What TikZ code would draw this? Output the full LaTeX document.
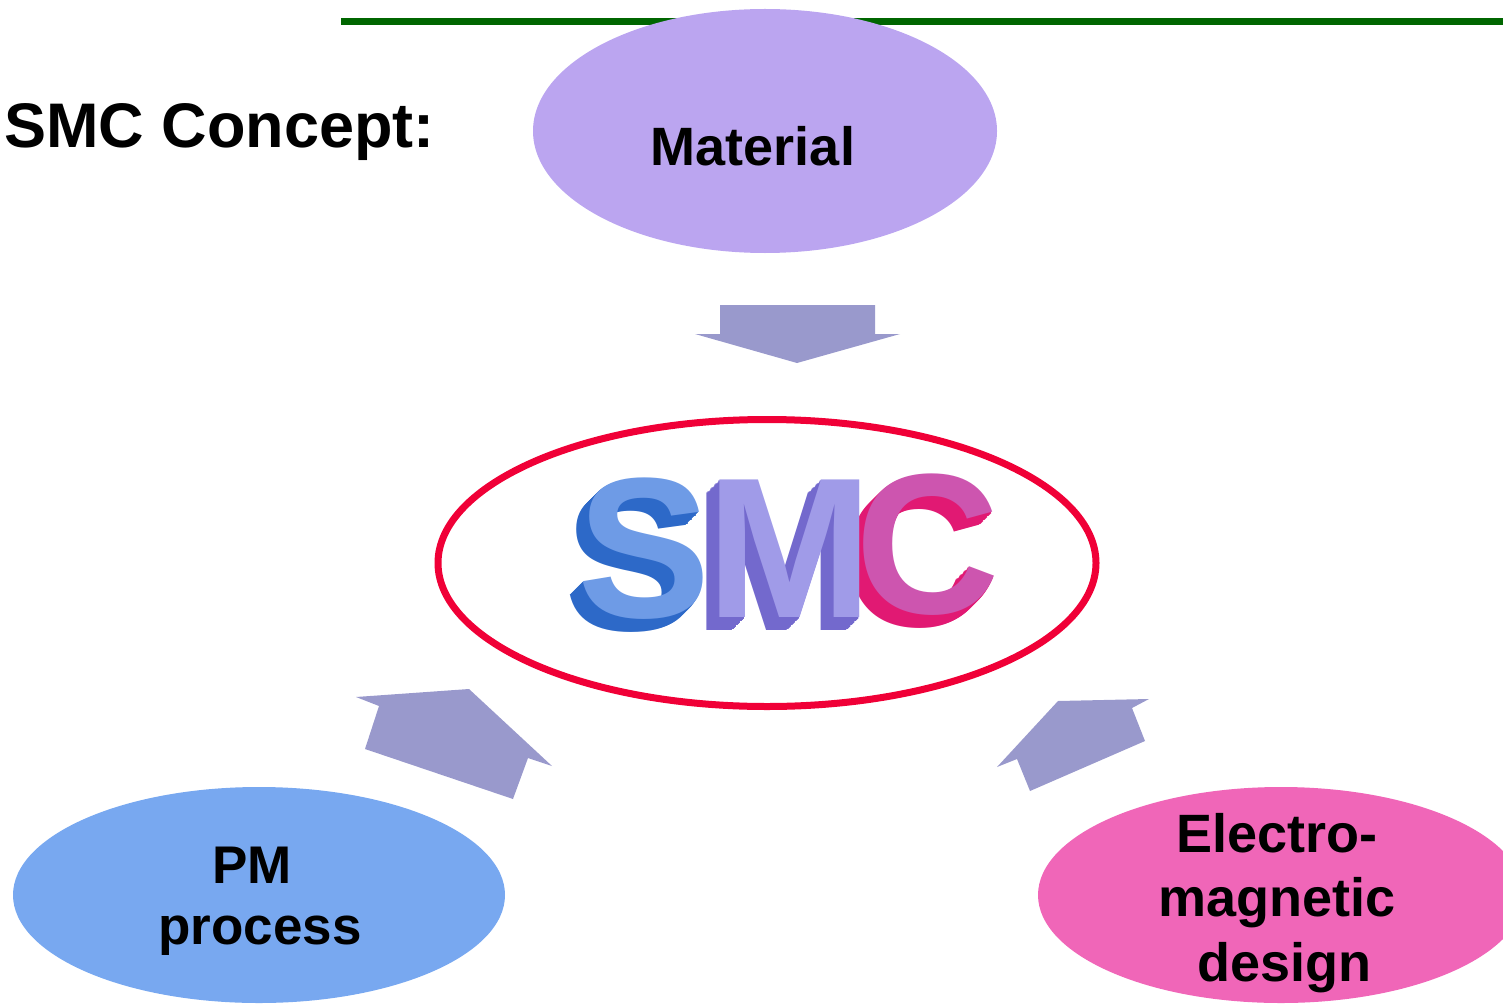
\documentclass[tikz,border=0pt]{standalone}
\usepackage{fontspec}
\setmainfont{Liberation Sans}
\usetikzlibrary{shapes.geometric}

\definecolor{lineGreen}{RGB}{0,102,0}
\definecolor{matFill}{RGB}{187,165,240}
\definecolor{pmFill}{RGB}{120,168,240}
\definecolor{emFill}{RGB}{240,102,184}
\definecolor{arrowFill}{RGB}{153,153,204}
\definecolor{ringRed}{RGB}{240,0,55}
\definecolor{sFront}{RGB}{110,155,230}
\definecolor{sSide}{RGB}{45,105,200}
\definecolor{mFront}{RGB}{160,155,232}
\definecolor{mSide}{RGB}{115,105,205}
\definecolor{cFront}{RGB}{205,85,175}
\definecolor{cSide}{RGB}{225,25,115}

\begin{document}
\begin{tikzpicture}[x=1pt,y=-1pt,
  blob/.style={ellipse, inner sep=0pt, draw=none},
  lbl/.style={font=\fontsize{54}{64}\selectfont\bfseries, text=black, anchor=base, inner sep=0pt},
  blockarrow/.style={fill=arrowFill, draw=none},
  logo/.style={font=\fontsize{200}{200}\selectfont\bfseries, inner sep=0pt}]
\useasboundingbox (0,0) rectangle (1503,1003);

% rule along the top
\coordinate (ruleL) at (341,22);
\coordinate (ruleR) at (1503,22);
\draw[lineGreen, line width=7pt] (ruleL) -- (ruleR);

% the three inputs
\node[blob, fill=matFill, minimum width=464pt, minimum height=244pt] (mat) at (765,131) {};
\node[blob, fill=pmFill, minimum width=492pt, minimum height=216pt] (pm) at (259,895) {};
\node[blob, fill=emFill, minimum width=486pt, minimum height=216pt] (em) at (1281,895) {};

\node[lbl, font=\fontsize{63}{70}\selectfont\bfseries, anchor=base west] (title) at (4,148) {SMC Concept:};
\node[lbl] (matText) at (753,166) {Material};
\node[lbl, font=\fontsize{53}{60}\selectfont\bfseries] (pmText1) at (252,883) {PM};
\node[lbl, font=\fontsize{53}{60}\selectfont\bfseries] (pmText2) at (260,944) {process};
\node[lbl] (emText1) at (1277,852) {Electro-};
\node[lbl] (emText2) at (1277,916) {magnetic};
\node[lbl] (emText3) at (1284,981) {design};

% block arrows pointing at the centre
\fill[blockarrow] (720,305) -- (875,305) -- (875,334) -- (900,334) -- (797,363)
  -- (695,334) -- (720,334) -- cycle;
\fill[blockarrow] (365,749) -- (513,799) -- (528,758) -- (552,766) -- (469,689)
  -- (356,697) -- (379,706) -- cycle;
\fill[blockarrow] (1058,701) -- (1149,699) -- (1132,708) -- (1145,741) -- (1030,791)
  -- (1017,759) -- (997,767) -- cycle;

% extruded SMC lettering
\foreach \i in {16,15,...,1}
  \node[logo, text=cSide] at ({928-0.8*\i},{545+0.8*\i}) {C};
\node[logo, text=cFront] (logoC) at (928,545) {C};
\foreach \i in {16,15,...,1}
  \node[logo, text=sSide] at ({644-0.8*\i},{549+0.8*\i}) {S};
\node[logo, text=sFront] (logoS) at (644,549) {S};
\foreach \i in {16,15,...,1}
  \node[logo, text=mSide] at ({790-0.8*\i},{549+0.8*\i}) {M};
\node[logo, text=mFront] (logoM) at (790,549) {M};

% red ring round the lettering
\node[ellipse, draw=ringRed, line width=7pt, minimum width=658pt, minimum height=287pt,
  inner sep=0pt] (smc) at (767,563) {};
\end{tikzpicture}
\end{document}
